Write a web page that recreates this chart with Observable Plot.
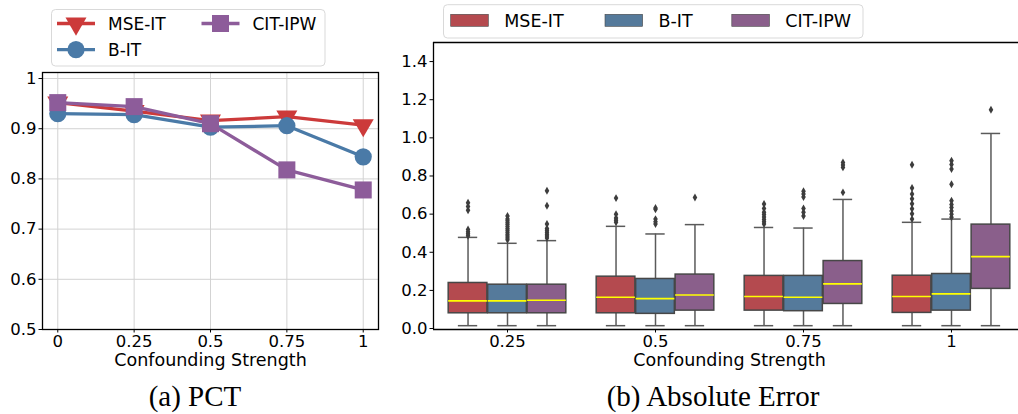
<!DOCTYPE html>
<html><head><meta charset="utf-8">
<script src="https://cdn.jsdelivr.net/npm/d3@7"></script>
<script src="https://cdn.jsdelivr.net/npm/@observablehq/plot@0.6"></script>
<style>
body{margin:0;background:#fff;overflow:hidden}
#wrap{position:relative;width:1018px;height:414px;font-family:"DejaVu Sans",sans-serif;background:#fff}
#wrap svg{position:absolute}
</style></head><body><div id="wrap"></div>
<script>
// ---------- data: (a) PCT ----------
const strengths = [0, 0.25, 0.5, 0.75, 1];
const strengthLabels = ["0", "0.25", "0.5", "0.75", "1"];
const methods = ["MSE-IT", "B-IT", "CIT-IPW"];
const lineColors = ["#cc3a3a", "#4a7aa7", "#8d5c9a"];
const boxColors = ["#b44a4f", "#557a9b", "#8a5f8b"];
const pctMSE = [0.952, 0.935, 0.916, 0.924, 0.907];
const pctBIT = [0.930, 0.928, 0.903, 0.906, 0.844];
const pctCIT = [0.952, 0.944, 0.910, 0.818, 0.778];
const pctTicks = [0.5, 0.6, 0.7, 0.8, 0.9, 1];

// ---------- data: (b) Absolute Error (box summaries) ----------
const categories = ["0.25", "0.5", "0.75", "1"];
const errTicks = [0, 0.2, 0.4, 0.6, 0.8, 1.0, 1.2, 1.4];
const loAll = [0.015, 0.015, 0.015, 0.015];
const q1MSE = [0.080, 0.080, 0.094, 0.082];
const medMSE = [0.145, 0.164, 0.168, 0.168];
const q3MSE = [0.239, 0.272, 0.276, 0.277];
const hiMSE = [0.478, 0.536, 0.530, 0.557];
const q1BIT = [0.080, 0.077, 0.091, 0.094];
const medBIT = [0.145, 0.157, 0.164, 0.182];
const q3BIT = [0.230, 0.260, 0.276, 0.286];
const hiBIT = [0.447, 0.496, 0.527, 0.574];
const q1CIT = [0.080, 0.094, 0.129, 0.208];
const medCIT = [0.148, 0.176, 0.234, 0.377];
const q3CIT = [0.230, 0.283, 0.354, 0.545];
const hiCIT = [0.461, 0.545, 0.677, 1.023];
const outMSE = [
  [0.487, 0.497, 0.507, 0.520, 0.620, 0.640, 0.660],
  [0.557, 0.568, 0.580, 0.600, 0.684],
  [0.548, 0.560, 0.572, 0.585, 0.598, 0.610, 0.630, 0.653],
  [0.574, 0.602, 0.628, 0.654, 0.680, 0.705, 0.737, 0.859]
];
const outBIT = [
  [0.465, 0.475, 0.485, 0.495, 0.505, 0.515, 0.525, 0.535, 0.545, 0.555, 0.565, 0.575, 0.590],
  [0.548, 0.560, 0.574, 0.625, 0.632],
  [0.590, 0.610, 0.630, 0.690, 0.705, 0.720],
  [0.583, 0.600, 0.617, 0.635, 0.650, 0.670, 0.757, 0.836, 0.860, 0.880]
];
const outCIT = [
  [0.475, 0.485, 0.495, 0.505, 0.515, 0.525, 0.548, 0.644, 0.723],
  [0.687],
  [0.714, 0.845, 0.858, 0.871],
  [1.147]
];

const wrap = document.getElementById("wrap");

// ---------- (a) line chart ----------
const pctSeries = [pctMSE, pctBIT, pctCIT];
const symbols = ["triangle", "circle", "square"];
const rot = [180, 0, 0];
const rad = [7.8, 8.6, 9.6];
const lineRows = [];
methods.forEach((m, j) => strengths.forEach((s, i) => lineRows.push({m, j, s, v: pctSeries[j][i]})));

const marksA = [
  Plot.gridX(strengths, {stroke: "#d3d3d3", strokeOpacity: 1, strokeWidth: 1}),
  Plot.gridY(pctTicks, {stroke: "#d3d3d3", strokeOpacity: 1, strokeWidth: 1})
];
methods.forEach((m, j) => {
  const rows = lineRows.filter(d => d.j === j);
  marksA.push(Plot.line(rows, {x: "s", y: "v", stroke: lineColors[j], strokeWidth: 3.3}));
  marksA.push(Plot.dot(rows, {x: "s", y: "v", symbol: () => symbols[j], r: rad[j], fill: lineColors[j], stroke: "none", rotate: rot[j]}));
});
marksA.push(
  Plot.frame({stroke: "#000", strokeWidth: 1.3}),
  Plot.axisX(strengths, {tickFormat: d => strengthLabels[strengths.indexOf(d)], tickSize: 3.5, tickPadding: 2.5, label: null}),
  Plot.axisY(pctTicks, {tickFormat: d => String(d), tickSize: 3.5, tickPadding: 2.5, label: null}),
  Plot.text(["Confounding Strength"], {text: d => d, frameAnchor: "bottom", lineAnchor: "middle", dy: 31, fontSize: 17.5, fill: "#000"})
);
const chartA = Plot.plot({
  width: 390, height: 372,
  marginLeft: 42, marginRight: 12, marginTop: 72, marginBottom: 43,
  x: {type: "linear", domain: [-0.05, 1.05]},
  y: {type: "linear", domain: [0.5, 1.012]},
  style: {fontFamily: "DejaVu Sans, sans-serif", fontSize: "16.5px", color: "#000", background: "transparent"},
  marks: marksA
});
chartA.style.left = "0px"; chartA.style.top = "0px";
wrap.appendChild(chartA);

// ---------- (b) box chart ----------
const q1s = [q1MSE, q1BIT, q1CIT], meds = [medMSE, medBIT, medCIT], q3s = [q3MSE, q3BIT, q3CIT], his = [hiMSE, hiBIT, hiCIT], outs = [outMSE, outBIT, outCIT];
const groupWidth = 0.8, boxW = groupWidth / methods.length * 0.98;
const boxRows = [], outRows = [];
methods.forEach((m, j) => categories.forEach((c, i) => {
  const cx = i + (j - (methods.length - 1) / 2) * groupWidth / methods.length;
  boxRows.push({j, cx, x1: cx - boxW / 2, x2: cx + boxW / 2, c1: cx - boxW / 4, c2: cx + boxW / 4,
    lo: loAll[i], q1: q1s[j][i], med: meds[j][i], q3: q3s[j][i], hi: his[j][i]});
  outs[j][i].forEach(v => outRows.push({cx, v}));
}));
const xDomB = [-0.5, -0.5 + 585 / 148];
const yDomB = [-0.005, 1.5];
const grayEdge = "#474747", grayWh = "#5a5a5a";
const chartB = Plot.plot({
  width: 628, height: 372,
  marginLeft: 43, marginRight: 0, marginTop: 42, marginBottom: 43,
  x: {type: "linear", domain: xDomB},
  y: {type: "linear", domain: yDomB},
  style: {fontFamily: "DejaVu Sans, sans-serif", fontSize: "16.5px", color: "#000", background: "transparent"},
  marks: [
    Plot.ruleX(boxRows, {x: "cx", y1: "lo", y2: "q1", stroke: grayWh, strokeWidth: 1.5}),
    Plot.ruleX(boxRows, {x: "cx", y1: "q3", y2: "hi", stroke: grayWh, strokeWidth: 1.5}),
    Plot.ruleY(boxRows, {y: "lo", x1: "c1", x2: "c2", stroke: grayWh, strokeWidth: 1.5}),
    Plot.ruleY(boxRows, {y: "hi", x1: "c1", x2: "c2", stroke: grayWh, strokeWidth: 1.5}),
    Plot.rect(boxRows, {x1: "x1", x2: "x2", y1: "q1", y2: "q3", fill: d => boxColors[d.j], stroke: grayEdge, strokeWidth: 1.5}),
    Plot.ruleY(boxRows, {y: "med", x1: "x1", x2: "x2", stroke: "#ffff00", strokeWidth: 1.6}),
    Plot.dot(outRows, {x: "cx", y: "v", symbol: "diamond", r: 2.4, fill: "#3d3d3d", stroke: "none"}),
    Plot.ruleX([xDomB[0]], {stroke: "#000", strokeWidth: 1.3}),
    Plot.ruleY(yDomB, {stroke: "#000", strokeWidth: 1.3}),
    Plot.axisX([0, 1, 2, 3], {tickFormat: i => categories[i], tickSize: 3.5, tickPadding: 2.5, label: null}),
    Plot.axisY(errTicks, {tickFormat: d3.format(".1f"), tickSize: 3.5, tickPadding: 2.5, label: null}),
    Plot.text(["Confounding Strength"], {text: d => d, x: 1.5, frameAnchor: "bottom", lineAnchor: "middle", dy: 31, fontSize: 17.5, fill: "#000"})
  ]
});
chartB.style.left = "390px"; chartB.style.top = "0px";
wrap.appendChild(chartB);

// ---------- legends and captions overlay ----------
const ov = d3.select(wrap).append("svg").attr("width", 1018).attr("height", 414)
  .style("left", "0px").style("top", "0px").style("pointer-events", "none")
  .style("font-family", "DejaVu Sans, sans-serif");

// legend (a)
ov.append("rect").attr("x", 51.5).attr("y", 9.5).attr("width", 273.5).attr("height", 56.5).attr("rx", 4)
  .attr("fill", "#fff").attr("fill-opacity", 0.85).attr("stroke", "#d9d9d9").attr("stroke-width", 1);
const legA = [{j: 0, x: 57, y: 23.5}, {j: 1, x: 57, y: 49.7}, {j: 2, x: 201.5, y: 23.5}];
legA.forEach(({j, x, y}) => {
  ov.append("line").attr("x1", x).attr("x2", x + 38).attr("y1", y).attr("y2", y)
    .attr("stroke", lineColors[j]).attr("stroke-width", 3.3);
  const sym = [d3.symbolTriangle, d3.symbolCircle, d3.symbolSquare][j];
  ov.append("path").attr("d", d3.symbol(sym, Math.PI * rad[j] * rad[j])())
    .attr("transform", `translate(${x + 19},${y}) rotate(${rot[j]})`).attr("fill", lineColors[j]);
  ov.append("text").attr("x", x + 51).attr("y", y).attr("dy", "0.36em").attr("font-size", 17)
    .attr("fill", "#000").text(methods[j]);
});

// legend (b)
ov.append("rect").attr("x", 443.5).attr("y", 4.7).attr("width", 419.5).attr("height", 33.3).attr("rx", 4)
  .attr("fill", "#fff").attr("fill-opacity", 0.85).attr("stroke", "#d9d9d9").attr("stroke-width", 1);
const legBx = [450.7, 605, 731.8];
legBx.forEach((x, j) => {
  ov.append("rect").attr("x", x).attr("y", 14.3).attr("width", 37.6).attr("height", 12)
    .attr("fill", boxColors[j]).attr("stroke", grayEdge).attr("stroke-width", 0.6);
  ov.append("text").attr("x", x + 53.5).attr("y", 20.3).attr("dy", "0.36em").attr("font-size", 17.5)
    .attr("fill", "#000").text(methods[j]);
});

// captions
ov.append("text").attr("x", 195).attr("y", 406).attr("text-anchor", "middle")
  .attr("font-family", "Liberation Serif, serif").attr("font-size", 29).text("(a) PCT");
ov.append("text").attr("x", 713).attr("y", 406).attr("text-anchor", "middle")
  .attr("font-family", "Liberation Serif, serif").attr("font-size", 29).text("(b) Absolute Error");
</script></body></html>
